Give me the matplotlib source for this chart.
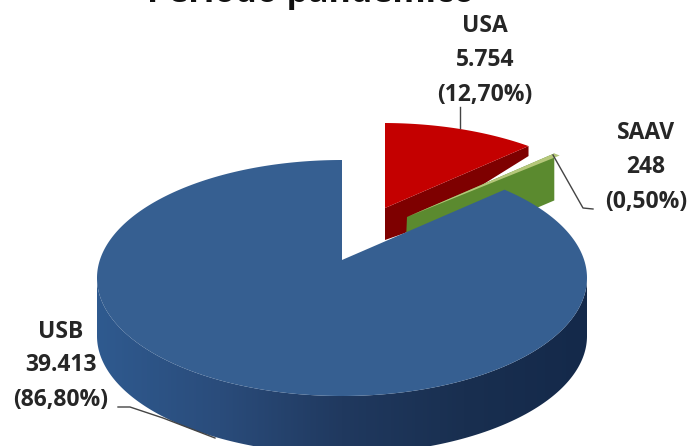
import numpy as np
import matplotlib
matplotlib.use("Agg")
import matplotlib.pyplot as plt
from matplotlib.path import Path
from matplotlib.patches import PathPatch, Polygon
from matplotlib.colors import LinearSegmentedColormap

plt.rcParams['font.family'] = ['Open Sans', 'DejaVu Sans']

labels = ["USA", "SAAV", "USB"]
values = [5754, 248, 39413]
shares = ["12,70%", "0,50%", "86,80%"]
value_text = ["5.754", "248", "39.413"]
title = "Período pandêmico"

W, H = 691, 446
RX, RY = 245, 118

fig = plt.figure(figsize=(W / 100, H / 100), dpi=100)
ax = fig.add_axes([0, 0, 1, 1])
wedges, _ = ax.pie(values, startangle=90, counterclock=False,
                   colors=["#c40000", "#b5c77a", "#365f91"],
                   wedgeprops={"linewidth": 0})
ax.set_aspect("auto")
ax.axis("off")

# per-slice placement in pixels: apex, ellipse centre, tilt of slice directions
geom = {
    "USA": ((385, 208), (383, 241), 108 / 245),
    "SAAV": ((407, 217), (405, 247), 108 / 245),
    "USB": ((342, 260), (342, 278), 116 / 245),
}


def rim(apex, centre, squash, clock):
    """Where the ray from the apex at a clock angle meets the ellipse."""
    a = np.radians(clock)
    dx, dy = RX * np.sin(a), -RX * squash * np.cos(a)
    ox, oy = apex[0] - centre[0], apex[1] - centre[1]
    A = (dx / RX) ** 2 + (dy / RY) ** 2
    B = 2 * (ox * dx / RX ** 2 + oy * dy / RY ** 2)
    C = (ox / RX) ** 2 + (oy / RY) ** 2 - 1
    t = (-B + np.sqrt(B * B - 4 * A * C)) / (2 * A)
    return apex[0] + t * dx, apex[1] + t * dy


ends = {}
for name, w in zip(labels, wedges):
    apex, centre, squash = geom[name]
    c1, c2 = sorted((90 - w.theta2, 90 - w.theta1))
    pts = [rim(apex, centre, squash, c) for c in np.linspace(c1, c2, 400)]
    ends[name] = (pts[0], pts[-1])
    verts = [apex] + pts + [apex]
    codes = [Path.MOVETO] + [Path.LINETO] * (len(verts) - 2) + [Path.CLOSEPOLY]
    w._path = Path(np.array(verts), codes)

usa, saav, usb = wedges

# USA cut wall (narrower far away)
a = geom["USA"][0]
tip = ends["USA"][1]
ax.add_patch(Polygon([a, tip, (tip[0], tip[1] + 10), (a[0] + 20, a[1] + 25),
                      (a[0], a[1] + 32)], closed=True, fc="#7e0000", lw=0, zorder=2))
usa.set_zorder(3)

# SAAV wall
a = geom["SAAV"][0]
tip = ends["SAAV"][0]
ax.add_patch(Polygon([a, tip, (tip[0], tip[1] + 47), (a[0] - 2, a[1] + 47)],
                     closed=True, fc="#5b8a2f", lw=0, zorder=4))
saav.set_zorder(5)

# USB outer wall, gradient clipped to the extruded lower half of the ellipse
cx, cy = geom["USB"][1]
DEPTH = 58
phi = np.radians(np.linspace(180, 0, 300))
xs = cx + RX * np.cos(phi)
ys = cy + RY * np.sin(phi)
verts = np.r_[np.c_[xs, ys], np.c_[xs[::-1], ys[::-1] + DEPTH], [[xs[0], ys[0]]]]
codes = [Path.MOVETO] + [Path.LINETO] * (len(verts) - 2) + [Path.CLOSEPOLY]
wall = PathPatch(Path(verts, codes), fc="none", ec="none", zorder=6)
ax.add_patch(wall)
cmap = LinearSegmentedColormap.from_list(
    "w", ["#2f5a8f", "#2a4c7b", "#20395f", "#192f50", "#14294a"])
im = ax.imshow(np.linspace(0, 1, 256)[None, :], cmap=cmap, aspect="auto",
               extent=(xs.min(), xs.max(), ys.max() + DEPTH, ys.min()),
               zorder=6, interpolation="bilinear")
im.set_clip_path(wall)
usb.set_zorder(7)

ax.set_xlim(0, W)
ax.set_ylim(H, 0)

fs = 16.5
col = "#262626"


def label(x, ys_, lines):
    for y, s in zip(ys_, lines):
        ax.text(x, y, s, ha="center", va="center", fontsize=fs,
                fontweight="bold", color=col, zorder=10)


label(485, [26, 60, 95], [labels[0], value_text[0], f"({shares[0]})"])
label(646, [133, 167, 202], [labels[1], value_text[1], f"({shares[1]})"])
label(61, [332, 365, 400], [labels[2], value_text[2], f"({shares[2]})"])

ax.text(311, 2, title, ha="center", va="baseline", fontsize=24.5,
        fontweight="bold", color="#111111", zorder=10)

leaders = [
    [(460, 107), (460, 128)],
    [(553, 155), (583, 208), (593, 209)],
    [(118, 407), (130, 407), (163, 418), (215, 438)],
]
for seg in leaders:
    p = np.array(seg)
    ax.plot(p[:, 0], p[:, 1], color="#444444", lw=1, zorder=9)

fig.savefig("out.png", dpi=100)
